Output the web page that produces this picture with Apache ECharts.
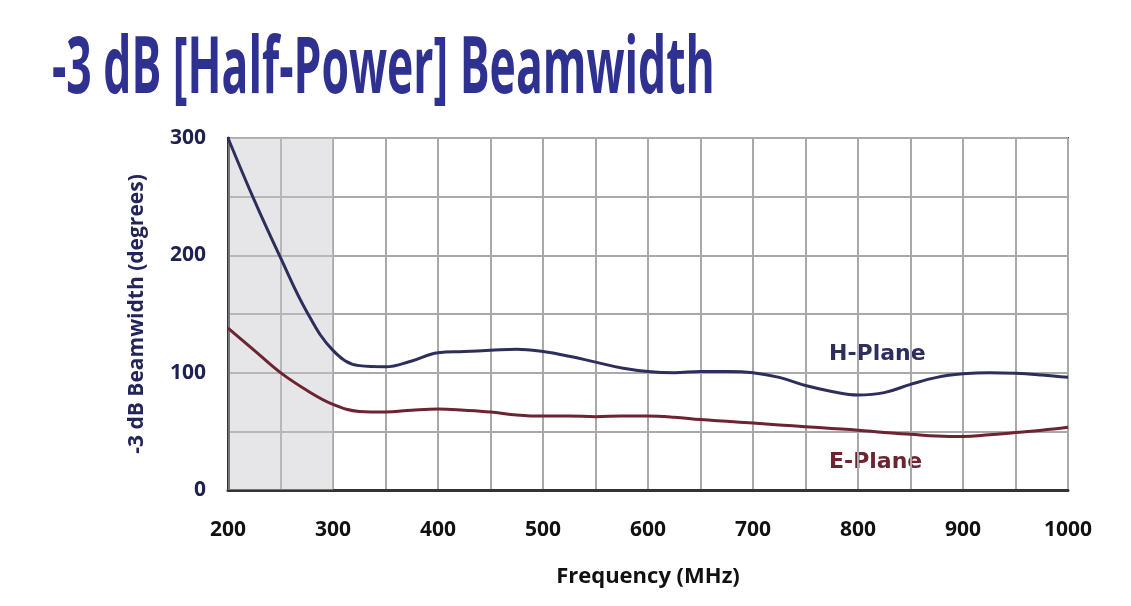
<!DOCTYPE html>
<html>
<head>
<meta charset="utf-8">
<script src="https://cdn.jsdelivr.net/npm/echarts@6/dist/echarts.min.js"></script>
<style>
  html, body { margin: 0; padding: 0; background: #fff; }
  #chart { width: 1131px; height: 606px; }
</style>
</head>
<body>
<div id="chart"></div>
<script>
// frequency (MHz) sampled every 25
var freqs = [200, 225, 250, 275, 300, 325, 350, 375, 400, 425, 450, 475, 500, 525, 550, 575, 600,
             625, 650, 675, 700, 725, 750, 775, 800, 825, 850, 875, 900, 925, 950, 975, 1000];
var hPlane = [300, 247, 198, 152, 119, 106, 105, 110, 117, 118, 119, 120, 118, 114, 109, 104, 101,
              100, 101, 101, 100, 96, 89, 84, 81, 83, 90, 96, 99, 100, 99.5, 98, 96];
var ePlane = [138, 119, 100, 85, 73, 67, 66.5, 68, 69, 68, 66.5, 64, 63, 63, 62.5, 63, 63,
              62, 60, 58.5, 57, 55.5, 54, 52.5, 51, 49, 47.5, 46, 45.5, 47, 49, 51, 53.5];
var shadedRange = [200, 300];

function pairs(ys) {
    return freqs.map(function (f, i) { return [f, ys[i]]; });
}

var chart = echarts.init(document.getElementById('chart'));

var options = {
    animation: false,
    grid: {
        left: 228, right: 63, top: 138, bottom: 116,
        show: true,
        borderColor: '#333',
        borderWidth: 2
    },
    xAxis: {
        type: 'value',
        min: 200, max: 1000, interval: 50,
        name: 'Frequency (MHz)',
        nameLocation: 'middle',
        nameGap: 76,
        nameTextStyle: { fontFamily: 'Open Sans', fontWeight: 'bold', fontSize: 22, color: '#111' },
        axisLine: { lineStyle: { color: '#333', width: 3 } },
        axisTick: { show: false },
        axisLabel: {
            margin: 30,
            fontFamily: 'Open Sans', fontWeight: 'bold', fontSize: 21, color: '#111',
            formatter: function (v) { return v % 100 === 0 ? String(v) : ''; }
        },
        splitLine: { lineStyle: { color: '#a9a9a9', width: 2 } }
    },
    yAxis: {
        type: 'value',
        min: 0, max: 300, interval: 50,
        name: '-3 dB Beamwidth (degrees)',
        nameLocation: 'middle',
        nameGap: 80,
        nameTextStyle: { fontFamily: 'Open Sans', fontWeight: 'bold', fontSize: 21, color: '#23245a' },
        axisLine: { show: true, lineStyle: { color: '#333', width: 3 } },
        axisTick: { show: false },
        axisLabel: {
            margin: 22,
            fontFamily: 'Open Sans', fontWeight: 'bold', fontSize: 21, color: '#1f2052',
            formatter: function (v) { return v % 100 === 0 ? String(v) : ''; }
        },
        splitLine: { lineStyle: { color: '#a9a9a9', width: 2 } }
    },
    series: [{
        name: 'H-Plane',
        type: 'line',
        smooth: 0.4,
        showSymbol: false,
        data: pairs(hPlane),
        lineStyle: { color: '#2d2e5c', width: 3 },
        z: 3,
        markArea: {
            silent: true,
            itemStyle: { color: 'rgba(200,200,204,0.45)' },
            data: [[{ xAxis: shadedRange[0] }, { xAxis: shadedRange[1] }]]
        }
    }, {
        name: 'E-Plane',
        type: 'line',
        smooth: 0.4,
        showSymbol: false,
        data: pairs(ePlane),
        lineStyle: { color: '#6b2430', width: 3 },
        z: 3
    }],
    graphic: [{
        // condensed bold title
        type: 'text', x: 52, y: 32, scaleX: 0.57,
        style: { text: '-3 dB [Half-Power] Beamwidth', font: 'bold 78px "Open Sans"', fill: '#2e3190' }
    }, {
        type: 'text', left: 829, top: 343,
        style: { text: 'H-Plane', font: 'bold 22px "DejaVu Sans"', fill: '#2d2e5c' }
    }, {
        type: 'text', left: 829, top: 451,
        style: { text: 'E-Plane', font: 'bold 22px "DejaVu Sans"', fill: '#6b2430' }
    }]
};
chart.setOption(options);
</script>
</body>
</html>
